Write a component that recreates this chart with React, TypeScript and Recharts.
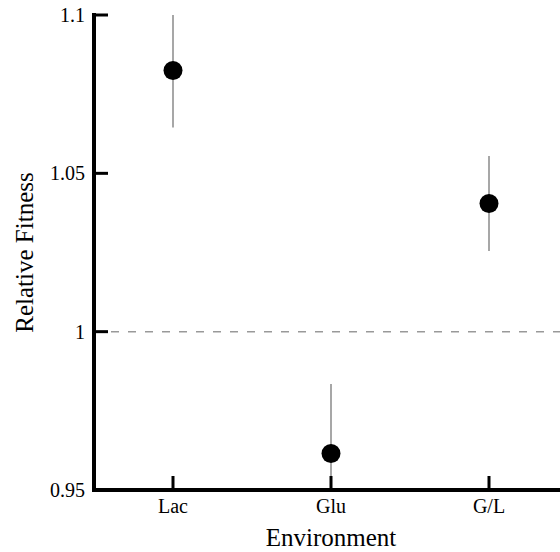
import React from "react"
import {
  ScatterChart,
  Scatter,
  XAxis,
  YAxis,
  ErrorBar,
  ReferenceLine,
  Label,
} from "recharts"

// Values
const environments = ["Lac", "Glu", "G/L"]
const fitness = [1.0825, 0.9615, 1.0405]
const errors = [0.018, 0.022, 0.015]
const yTicks = [0.95, 1, 1.05, 1.1]
const Y_MIN = 0.95
const Y_MAX = 1.1

// whiskers stop at the plot edges, like in the figure
const data = environments.map((env, i) => ({
  env,
  fitness: fitness[i],
  err: [Math.min(errors[i], fitness[i] - Y_MIN), Math.min(errors[i], Y_MAX - fitness[i])],
}))

const FONT = "'Liberation Serif', 'Times New Roman', Times, serif"
const textStyle = { fontFamily: FONT }
const TICK_LEN = 14
const Y_GAP = 9

function YTick({ x, y, payload }) {
  return (
    <g>
      <line x1={x + Y_GAP} y1={y} x2={x + Y_GAP + TICK_LEN} y2={y} stroke="#000" strokeWidth={3} />
      <text x={x} y={y} dy="0.35em" textAnchor="end" fontSize={20} style={textStyle} fill="#000">
        {payload.value}
      </text>
    </g>
  )
}

function XTick({ x, y, payload }) {
  return (
    <g>
      <line x1={x} y1={y} x2={x} y2={y - TICK_LEN} stroke="#000" strokeWidth={3} />
      <text x={x} y={y + 23} textAnchor="middle" fontSize={20} style={textStyle} fill="#000">
        {payload.value}
      </text>
    </g>
  )
}

function YLabel({ viewBox }) {
  const cy = viewBox.y + viewBox.height / 2
  return (
    <text
      x={33}
      y={cy}
      transform={`rotate(-90, 33, ${cy})`}
      textAnchor="middle"
      fontSize={25}
      style={textStyle}
      fill="#000"
    >
      Relative Fitness
    </text>
  )
}

function XLabel({ viewBox }) {
  const cx = viewBox.x + viewBox.width / 2
  return (
    <text x={cx} y={546} textAnchor="middle" fontSize={25} style={textStyle} fill="#000">
      Environment
    </text>
  )
}

const Dot = (props) => <circle cx={props.cx} cy={props.cy} r={9.5} fill="#000" />

export default function App() {
  return (
    <div style={{ position: "fixed", left: 0, top: 0, width: 560, height: 552, overflow: "hidden", background: "#fff" }}>
      <ScatterChart width={580} height={552} margin={{ top: 15, right: 12, left: 0, bottom: 0 }} style={{ fontFamily: FONT }}>
        <XAxis
          dataKey="env"
          type="category"
          allowDuplicatedCategory={false}
          height={62}
          tickSize={0}
          tickMargin={0}
          tick={<XTick />}
          axisLine={{ stroke: "#000", strokeWidth: 4, strokeLinecap: "square" }}
        >
          <Label content={<XLabel />} />
        </XAxis>
        <YAxis
          dataKey="fitness"
          type="number"
          domain={[Y_MIN, Y_MAX]}
          ticks={yTicks}
          allowDataOverflow
          width={94}
          tickSize={0}
          tickMargin={Y_GAP}
          tick={<YTick />}
          axisLine={{ stroke: "#000", strokeWidth: 4, strokeLinecap: "square" }}
        >
          <Label content={<YLabel />} />
        </YAxis>
        <ReferenceLine y={1} stroke="#999" strokeWidth={1.5} strokeDasharray="8 9" />
        <Scatter data={data} shape={<Dot />} isAnimationActive={false}>
          <ErrorBar dataKey="err" direction="y" width={0} stroke="#8a8a8a" strokeWidth={1.5} />
        </Scatter>
      </ScatterChart>
    </div>
  )
}
